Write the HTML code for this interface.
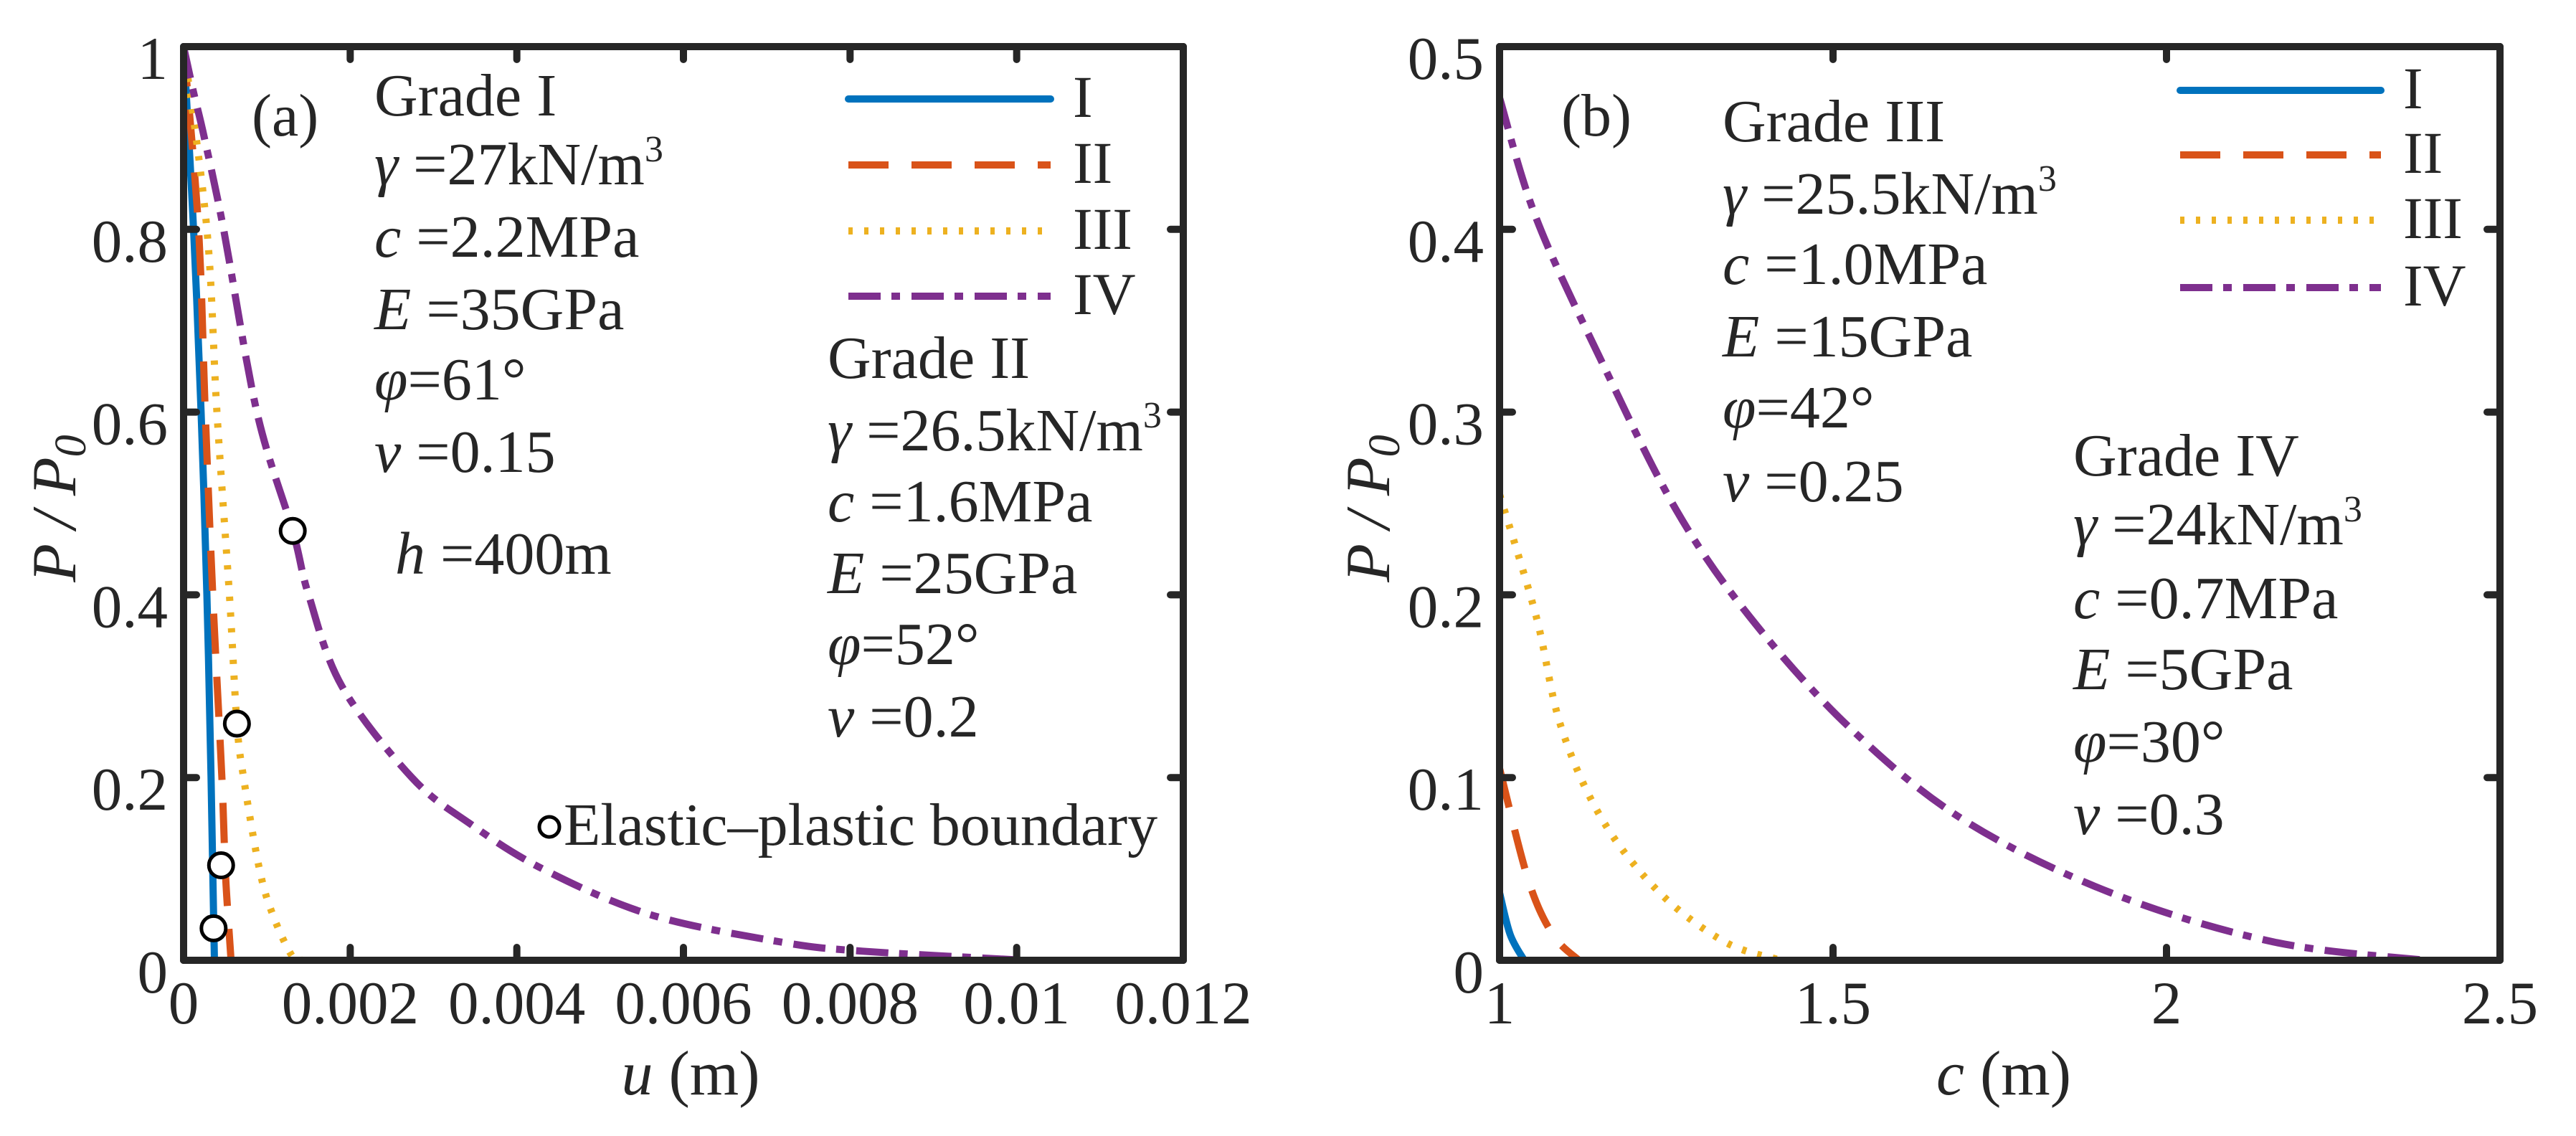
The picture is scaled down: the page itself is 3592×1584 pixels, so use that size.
<!DOCTYPE html>
<html><head><meta charset="utf-8"><style>
html,body{margin:0;padding:0;background:#fff}
svg{display:block}
text{font-family:"Liberation Serif",serif;fill:#262626}
</style></head><body>
<svg id="fig" width="3592" height="1584" viewBox="0 0 3592 1584" xmlns="http://www.w3.org/2000/svg">
<rect width="3592" height="1584" fill="#fff"/>
</svg>
<script>
// ---------- data panel (a) ----------
const aXTicks=[0,0.002,0.004,0.006,0.008,0.01,0.012];
const aXTickLabels=["0","0.002","0.004","0.006","0.008","0.01","0.012"];
const aYTicks=[0,0.2,0.4,0.6,0.8,1];
const aYTickLabels=["0","0.2","0.4","0.6","0.8","1"];
const aIx=[0,0.00012,0.00021,0.00028,0.00033,0.00036,0.00037];
const aIy=[1,0.8,0.6,0.4,0.2,0.05,0];
const aIIx=[0,0.00018,0.00026,0.00035,0.00046,0.0005,0.00054,0.00057];
const aIIy=[1,0.8,0.6,0.4,0.2,0.1,0.04,0];
const aIIIx=[0,0.00028,0.0004,0.00055,0.00064,0.00072,0.00091,0.00107,0.0013,0.00143];
const aIIIy=[1,0.8,0.6,0.4,0.26,0.2,0.1,0.05,0.005,0];
const aIVx=[0,0.00012,0.00025,0.00048,0.00088,0.00131,0.0015,0.0019,0.00274,0.00343,0.00431,0.0056,0.00717,0.00815,0.0101];
const aIVy=[1,0.95,0.9,0.8,0.6,0.47,0.4,0.3,0.2,0.15,0.1,0.05,0.02,0.01,0];
const boundX=[0.00131,0.00064,0.00045,0.00036];
const boundY=[0.47,0.259,0.104,0.035];
// ---------- data panel (b) ----------
const bXTicks=[1,1.5,2,2.5];
const bXTickLabels=["1","1.5","2","2.5"];
const bYTicks=[0,0.1,0.2,0.3,0.4,0.5];
const bYTickLabels=["0","0.1","0.2","0.3","0.4","0.5"];
const bIx=[1,1.016,1.037];
const bIy=[0.037,0.014,0];
const bIIx=[1,1.043,1.08,1.119];
const bIIy=[0.105,0.044,0.014,0];
const bIIIx=[1,1.055,1.092,1.154,1.24,1.338,1.422];
const bIIIy=[0.255,0.188,0.128,0.077,0.037,0.01,0];
const bIVx=[1,1.055,1.154,1.264,1.375,1.523,1.695,1.916,2.161,2.389];
const bIVy=[0.472,0.406,0.327,0.247,0.188,0.128,0.077,0.037,0.01,0];

const NS="http://www.w3.org/2000/svg";
const svg=document.getElementById('fig');
function mk(tag,attrs,parent){const e=document.createElementNS(NS,tag);for(const k in attrs)e.setAttribute(k,attrs[k]);(parent||svg).appendChild(e);return e;}
const COL={I:"#0072BD",II:"#D95319",III:"#EDB120",IV:"#7E2F8E"};
const DASH={I:"none",II:"56 32",III:"6 16",IV:"45 15 12 16"};

function smoothPath(pts){
  let d="M"+pts[0][0].toFixed(1)+","+pts[0][1].toFixed(1);
  for(let i=0;i<pts.length-1;i++){
    const p0=pts[Math.max(i-1,0)],p1=pts[i],p2=pts[i+1],p3=pts[Math.min(i+2,pts.length-1)];
    const c1=[p1[0]+(p2[0]-p0[0])/6,p1[1]+(p2[1]-p0[1])/6];
    const c2=[p2[0]-(p3[0]-p1[0])/6,p2[1]-(p3[1]-p1[1])/6];
    d+=" C"+c1[0].toFixed(1)+","+c1[1].toFixed(1)+" "+c2[0].toFixed(1)+","+c2[1].toFixed(1)+" "+p2[0].toFixed(1)+","+p2[1].toFixed(1);
  }
  return d;
}

function panel(cfg){
  const L=cfg.L,R=cfg.R,T=65,B=1339;
  const sx=v=>L+(v-cfg.xmin)/(cfg.xmax-cfg.xmin)*(R-L);
  const sy=v=>B-(v-cfg.ymin)/(cfg.ymax-cfg.ymin)*(B-T);
  const g=mk('g',{});
  
  
  cfg.series.forEach(s=>{
    const pts=s.x.map((v,i)=>[sx(v),sy(s.y[i])]);
    const p=mk('path',{d:smoothPath(pts),fill:"none",stroke:COL[s.k],"stroke-width":10,"stroke-dasharray":DASH[s.k],"stroke-linecap":s.k==="I"?"round":"butt","stroke-linejoin":"round"},g);
    
    
  });
  if(cfg.markers){
    cfg.markers.x.forEach((v,i)=>{
      const c=mk('circle',{cx:sx(v),cy:sy(cfg.markers.y[i]),r:17,fill:"#fff",stroke:"#000","stroke-width":5},g);
      
      
    });
  }
  const box=mk('rect',{x:L,y:T,width:R-L,height:B-T,fill:"none",stroke:"#262626","stroke-width":10,"stroke-linejoin":"round"},g);
  
  
  cfg.xt.forEach((v,i)=>{
    const x=sx(v);
    mk('line',{x1:x,y1:B,x2:x,y2:B-18,stroke:"#262626","stroke-width":10,"stroke-linecap":"round"},g);
    mk('line',{x1:x,y1:T,x2:x,y2:T+18,stroke:"#262626","stroke-width":10,"stroke-linecap":"round"},g);
    const t=mk('text',{x:x,y:1427,"font-size":85,"text-anchor":"middle"},g);
    t.textContent=cfg.xtl[i];
    
    
  });
  cfg.yt.forEach((v,i)=>{
    const y=sy(v);
    mk('line',{x1:L,y1:y,x2:L+18,y2:y,stroke:"#262626","stroke-width":10,"stroke-linecap":"round"},g);
    mk('line',{x1:R,y1:y,x2:R-18,y2:y,stroke:"#262626","stroke-width":10,"stroke-linecap":"round"},g);
    const t=mk('text',{x:L-22,y:y+45,"font-size":85,"text-anchor":"end"},g);
    t.textContent=cfg.ytl[i];
    
    
  });
  const lg=mk('g',{},g);
  
  
  ["I","II","III","IV"].forEach((k,i)=>{
    const y=cfg.legY[i];
    const l=mk('line',{x1:cfg.legX1,y1:y,x2:cfg.legX2,y2:y,stroke:COL[k],"stroke-width":10,"stroke-dasharray":DASH[k],"stroke-linecap":k==="I"?"round":"butt"},lg);
    
    
    const t=mk('text',{x:cfg.legX2+31,y:y+25,"font-size":83},lg);
    t.textContent=k;
    
    
  });
}

panel({name:"panel-a",L:256,R:1650,xmin:0,xmax:0.012,ymin:0,ymax:1,xt:aXTicks,xtl:aXTickLabels,yt:aYTicks,ytl:aYTickLabels,
  series:[{k:"I",x:aIx,y:aIy},{k:"II",x:aIIx,y:aIIy},{k:"III",x:aIIIx,y:aIIIy},{k:"IV",x:aIVx,y:aIVy}],
  markers:{x:boundX,y:boundY},legX1:1183,legX2:1465,legY:[138,230,322,413]});
panel({name:"panel-b",L:2091,R:3486,xmin:1,xmax:2.5,ymin:0,ymax:0.5,xt:bXTicks,xtl:bXTickLabels,yt:bYTicks,ytl:bYTickLabels,
  series:[{k:"I",x:bIx,y:bIy},{k:"II",x:bIIx,y:bIIy},{k:"III",x:bIIIx,y:bIIIy},{k:"IV",x:bIVx,y:bIVy}],
  legX1:3040,legX2:3320,legY:[126,216,307,401]});
</script>
<svg style="position:absolute;left:0;top:0" width="3592" height="1584" xmlns="http://www.w3.org/2000/svg">
<g font-family="Liberation Serif, serif" font-size="84" fill="#262626">
<text x="351" y="189">(a)</text>
<text x="522" y="161">Grade I</text>
<text x="522" y="257"><tspan font-style="italic">γ</tspan> =27kN/m<tspan font-size="52" dy="-32">3</tspan></text>
<text x="522" y="358"><tspan font-style="italic">c</tspan> =2.2MPa</text>
<text x="522" y="459"><tspan font-style="italic">E</tspan> =35GPa</text>
<text x="522" y="557"><tspan font-style="italic">φ</tspan>=61°</text>
<text x="522" y="658"><tspan font-style="italic">v</tspan> =0.15</text>
<text x="551" y="800"><tspan font-style="italic">h</tspan> =400m</text>
<text x="1154" y="527">Grade II</text>
<text x="1154" y="628"><tspan font-style="italic">γ</tspan> =26.5kN/m<tspan font-size="52" dy="-32">3</tspan></text>
<text x="1154" y="727"><tspan font-style="italic">c</tspan> =1.6MPa</text>
<text x="1154" y="827"><tspan font-style="italic">E</tspan> =25GPa</text>
<text x="1154" y="926"><tspan font-style="italic">φ</tspan>=52°</text>
<text x="1154" y="1027"><tspan font-style="italic">v</tspan> =0.2</text>
<circle cx="766" cy="1153" r="14" fill="#fff" stroke="#000" stroke-width="5"/>
<text x="786" y="1178">Elastic–plastic boundary</text>
<text x="2177" y="189">(b)</text>
<text x="2402" y="197">Grade III</text>
<text x="2402" y="298"><tspan font-style="italic">γ</tspan> =25.5kN/m<tspan font-size="52" dy="-32">3</tspan></text>
<text x="2402" y="396"><tspan font-style="italic">c</tspan> =1.0MPa</text>
<text x="2402" y="497"><tspan font-style="italic">E</tspan> =15GPa</text>
<text x="2402" y="596"><tspan font-style="italic">φ</tspan>=42°</text>
<text x="2402" y="699"><tspan font-style="italic">v</tspan> =0.25</text>
<text x="2891" y="663">Grade IV</text>
<text x="2891" y="759"><tspan font-style="italic">γ</tspan> =24kN/m<tspan font-size="52" dy="-32">3</tspan></text>
<text x="2891" y="862"><tspan font-style="italic">c</tspan> =0.7MPa</text>
<text x="2891" y="961"><tspan font-style="italic">E</tspan> =5GPa</text>
<text x="2891" y="1062"><tspan font-style="italic">φ</tspan>=30°</text>
<text x="2891" y="1163"><tspan font-style="italic">v</tspan> =0.3</text>
</g>
<g font-family="Liberation Serif, serif" font-size="88" fill="#262626">
<text x="963" y="1526" text-anchor="middle"><tspan font-style="italic">u</tspan> (m)</text>
<text x="2794" y="1526" text-anchor="middle"><tspan font-style="italic">c</tspan> (m)</text>
<text transform="translate(105,709) rotate(-90)" text-anchor="middle" font-style="italic">P / P<tspan font-size="62" dy="14">0</tspan></text>
<text transform="translate(1937,709) rotate(-90)" text-anchor="middle" font-style="italic">P / P<tspan font-size="62" dy="14">0</tspan></text>
</g>
</svg>
</body></html>
